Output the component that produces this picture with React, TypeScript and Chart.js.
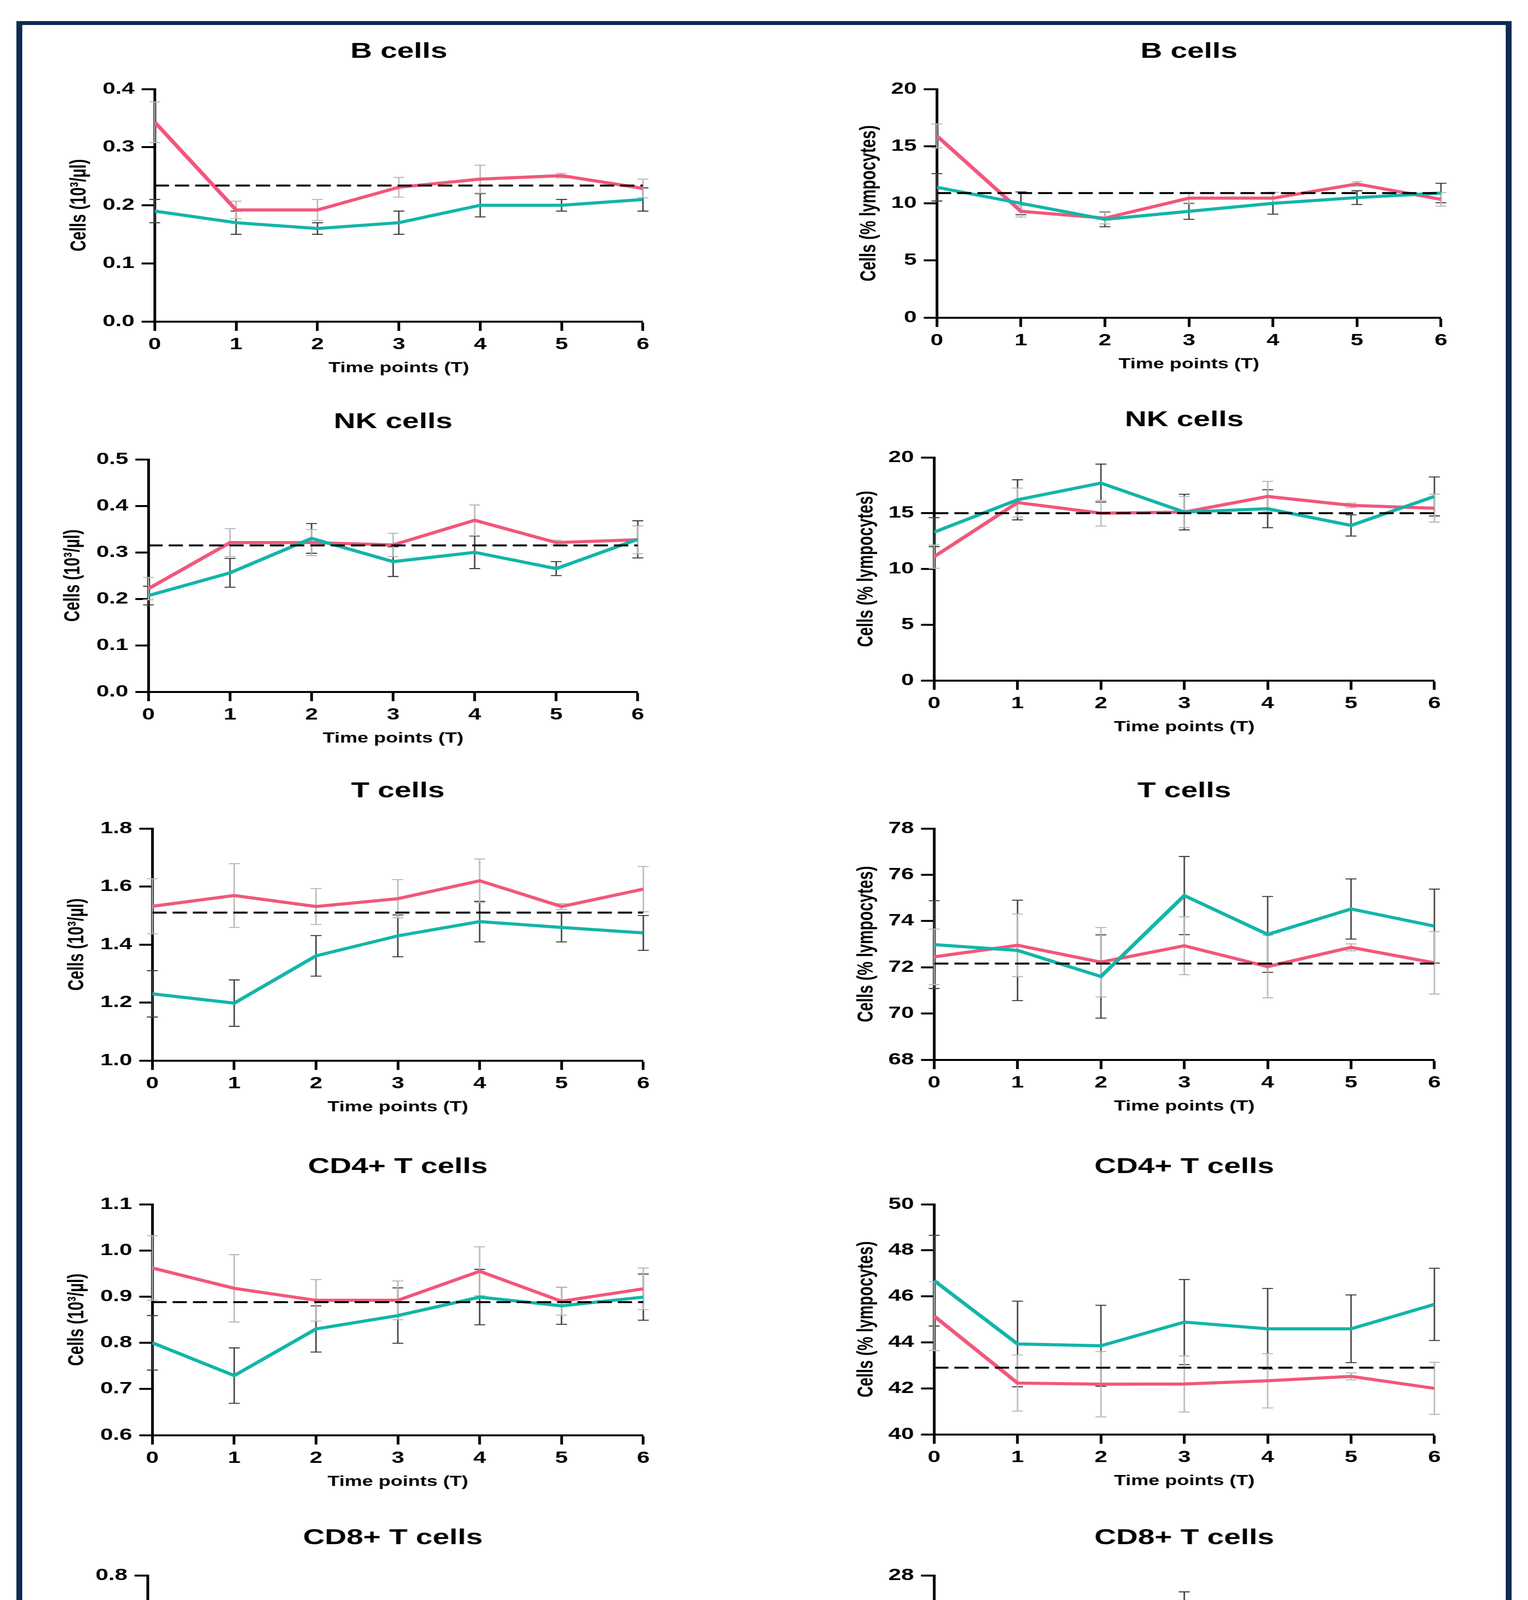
import React, { useEffect, useRef } from "react";
import { Chart, registerables } from "chart.js";

Chart.register(...registerables);

// ---------------- DATA ----------------
const TIME_POINTS = [0, 1, 2, 3, 4, 5, 6];
const SERIES_NAMES = ["PCR+PN+", "PCR-PN+", "HC"];
const X_AXIS_TITLE = "Time points (T)";
const Y_TITLE_ABS = "Cells (10³/µl)";
const Y_TITLE_PCT = "Cells (% lympocytes)";

// B cells
const B_ABS_TICKS = [0, 0.1, 0.2, 0.3, 0.4];
const B_ABS_POS = [0.19, 0.17, 0.16, 0.17, 0.2, 0.2, 0.21];
const B_ABS_POS_SEM = [0.02, 0.02, 0.01, 0.02, 0.02, 0.01, 0.02];
const B_ABS_NEG = [0.343, 0.192, 0.192, 0.231, 0.245, 0.251, 0.229];
const B_ABS_NEG_SEM = [0.035, 0.015, 0.018, 0.017, 0.024, 0.004, 0.016];
const B_ABS_HC = 0.234;

const B_PCT_TICKS = [0, 5, 10, 15, 20];
const B_PCT_POS = [11.4, 10.0, 8.6, 9.3, 10.0, 10.5, 10.9];
const B_PCT_POS_SEM = [1.2, 1.0, 0.65, 0.7, 0.95, 0.6, 0.85];
const B_PCT_NEG = [15.9, 9.3, 8.7, 10.45, 10.45, 11.7, 10.35];
const B_PCT_NEG_SEM = [1.05, 0.5, 0.5, 0.5, 0.5, 0.2, 0.6];
const B_PCT_HC = 10.9;

// NK cells
const NK_ABS_TICKS = [0, 0.1, 0.2, 0.3, 0.4, 0.5];
const NK_ABS_POS = [0.207, 0.256, 0.33, 0.28, 0.3, 0.265, 0.328];
const NK_ABS_POS_SEM = [0.02, 0.031, 0.032, 0.032, 0.035, 0.015, 0.04];
const NK_ABS_NEG = [0.222, 0.321, 0.321, 0.316, 0.369, 0.321, 0.327];
const NK_ABS_NEG_SEM = [0.024, 0.03, 0.028, 0.025, 0.033, 0.005, 0.03];
const NK_ABS_HC = 0.315;

const NK_PCT_TICKS = [0, 5, 10, 15, 20];
const NK_PCT_POS = [13.3, 16.2, 17.7, 15.1, 15.4, 13.9, 16.5];
const NK_PCT_POS_SEM = [1.3, 1.8, 1.7, 1.6, 1.7, 0.95, 1.75];
const NK_PCT_NEG = [11.1, 15.95, 15.0, 15.1, 16.5, 15.7, 15.45];
const NK_PCT_NEG_SEM = [1.05, 1.3, 1.15, 1.4, 1.35, 0.2, 1.25];
const NK_PCT_HC = 15.0;

// T cells
const T_ABS_TICKS = [1.0, 1.2, 1.4, 1.6, 1.8];
const T_ABS_POS = [1.23, 1.198, 1.361, 1.43, 1.479, 1.459, 1.44];
const T_ABS_POS_SEM = [0.08, 0.08, 0.07, 0.072, 0.07, 0.05, 0.06];
const T_ABS_NEG = [1.532, 1.569, 1.531, 1.558, 1.62, 1.531, 1.591];
const T_ABS_NEG_SEM = [0.095, 0.11, 0.062, 0.066, 0.075, 0.01, 0.078];
const T_ABS_HC = 1.51;

const T_PCT_TICKS = [68, 70, 72, 74, 76, 78];
const T_PCT_POS = [72.98, 72.73, 71.6, 75.1, 73.42, 74.52, 73.78];
const T_PCT_POS_SEM = [1.9, 2.17, 1.8, 1.69, 1.64, 1.3, 1.6];
const T_PCT_NEG = [72.45, 72.95, 72.22, 72.93, 72.03, 72.86, 72.19];
const T_PCT_NEG_SEM = [1.2, 1.35, 1.5, 1.25, 1.35, 0.15, 1.35];
const T_PCT_HC = 72.16;

// CD4+ T cells
const CD4_ABS_TICKS = [0.6, 0.7, 0.8, 0.9, 1.0, 1.1];
const CD4_ABS_POS = [0.8, 0.729, 0.83, 0.859, 0.899, 0.88, 0.899];
const CD4_ABS_POS_SEM = [0.059, 0.06, 0.05, 0.06, 0.06, 0.04, 0.05];
const CD4_ABS_NEG = [0.962, 0.918, 0.892, 0.892, 0.955, 0.89, 0.917];
const CD4_ABS_NEG_SEM = [0.07, 0.073, 0.045, 0.042, 0.053, 0.03, 0.045];
const CD4_ABS_HC = 0.888;

const CD4_PCT_TICKS = [40, 42, 44, 46, 48, 50];
const CD4_PCT_POS = [46.68, 43.93, 43.85, 44.88, 44.59, 44.59, 45.65];
const CD4_PCT_POS_SEM = [1.97, 1.86, 1.76, 1.85, 1.75, 1.47, 1.57];
const CD4_PCT_NEG = [45.14, 42.23, 42.18, 42.19, 42.33, 42.52, 42.0];
const CD4_PCT_NEG_SEM = [1.5, 1.22, 1.42, 1.22, 1.18, 0.15, 1.13];
const CD4_PCT_HC = 42.9;

// CD8+ T cells
const CD8_ABS_TICKS = [0, 0.2, 0.4, 0.6, 0.8];
const CD8_ABS_POS = [0.348, 0.378, 0.428, 0.479, 0.479, 0.488, 0.446];
const CD8_ABS_POS_SEM = [0.03, 0.03, 0.04, 0.03, 0.03, 0.03, 0.03];
const CD8_ABS_NEG = [0.487, 0.54, 0.53, 0.555, 0.559, 0.552, 0.562];
const CD8_ABS_NEG_SEM = [0.033, 0.034, 0.03, 0.034, 0.032, 0.005, 0.037];
const CD8_ABS_HC = 0.507;

const CD8_PCT_TICKS = [18, 20, 22, 24, 26, 28];
const CD8_PCT_POS = [21.6, 23.81, 22.6, 25.59, 24.08, 24.97, 23.52];
const CD8_PCT_POS_SEM = [1.5, 1.62, 1.62, 1.7, 1.52, 1.34, 1.43];
const CD8_PCT_NEG = [23.47, 25.69, 24.97, 25.62, 25.03, 26.15, 25.1];
const CD8_PCT_NEG_SEM = [1.06, 1.02, 1.2, 1.04, 1.0, 0.15, 1.0];
const CD8_PCT_HC = 24.0;

// ---------------- PANEL TABLE (built from the arrays) ----------------
type PanelData = {
  title: string;
  yTitle: string;
  ticks: number[];
  decimals: number;
  pos: number[];
  posSem: number[];
  neg: number[];
  negSem: number[];
  hc: number;
};

const PANELS: PanelData[] = [
  { title: "B cells", yTitle: Y_TITLE_ABS, ticks: B_ABS_TICKS, decimals: 1, pos: B_ABS_POS, posSem: B_ABS_POS_SEM, neg: B_ABS_NEG, negSem: B_ABS_NEG_SEM, hc: B_ABS_HC },
  { title: "B cells", yTitle: Y_TITLE_PCT, ticks: B_PCT_TICKS, decimals: 0, pos: B_PCT_POS, posSem: B_PCT_POS_SEM, neg: B_PCT_NEG, negSem: B_PCT_NEG_SEM, hc: B_PCT_HC },
  { title: "NK cells", yTitle: Y_TITLE_ABS, ticks: NK_ABS_TICKS, decimals: 1, pos: NK_ABS_POS, posSem: NK_ABS_POS_SEM, neg: NK_ABS_NEG, negSem: NK_ABS_NEG_SEM, hc: NK_ABS_HC },
  { title: "NK cells", yTitle: Y_TITLE_PCT, ticks: NK_PCT_TICKS, decimals: 0, pos: NK_PCT_POS, posSem: NK_PCT_POS_SEM, neg: NK_PCT_NEG, negSem: NK_PCT_NEG_SEM, hc: NK_PCT_HC },
  { title: "T cells", yTitle: Y_TITLE_ABS, ticks: T_ABS_TICKS, decimals: 1, pos: T_ABS_POS, posSem: T_ABS_POS_SEM, neg: T_ABS_NEG, negSem: T_ABS_NEG_SEM, hc: T_ABS_HC },
  { title: "T cells", yTitle: Y_TITLE_PCT, ticks: T_PCT_TICKS, decimals: 0, pos: T_PCT_POS, posSem: T_PCT_POS_SEM, neg: T_PCT_NEG, negSem: T_PCT_NEG_SEM, hc: T_PCT_HC },
  { title: "CD4+ T cells", yTitle: Y_TITLE_ABS, ticks: CD4_ABS_TICKS, decimals: 1, pos: CD4_ABS_POS, posSem: CD4_ABS_POS_SEM, neg: CD4_ABS_NEG, negSem: CD4_ABS_NEG_SEM, hc: CD4_ABS_HC },
  { title: "CD4+ T cells", yTitle: Y_TITLE_PCT, ticks: CD4_PCT_TICKS, decimals: 0, pos: CD4_PCT_POS, posSem: CD4_PCT_POS_SEM, neg: CD4_PCT_NEG, negSem: CD4_PCT_NEG_SEM, hc: CD4_PCT_HC },
  { title: "CD8+ T cells", yTitle: Y_TITLE_ABS, ticks: CD8_ABS_TICKS, decimals: 1, pos: CD8_ABS_POS, posSem: CD8_ABS_POS_SEM, neg: CD8_ABS_NEG, negSem: CD8_ABS_NEG_SEM, hc: CD8_ABS_HC },
  { title: "CD8+ T cells", yTitle: Y_TITLE_PCT, ticks: CD8_PCT_TICKS, decimals: 0, pos: CD8_PCT_POS, posSem: CD8_PCT_POS_SEM, neg: CD8_PCT_NEG, negSem: CD8_PCT_NEG_SEM, hc: CD8_PCT_HC },
];

// ---------------- LAYOUT (page pixels) ----------------
// plot area of each panel: [left, right, top, bottom]
const PLOT_BOXES: number[][] = [
  [396, 1646, 228, 823], [2398, 3688, 228, 813],
  [380, 1633, 1176, 1771], [2391, 3672, 1171, 1742],
  [390, 1646, 2121, 2715], [2391, 3672, 2121, 2713],
  [390, 1646, 3083, 3674], [2391, 3672, 3083, 3672],
  [378, 1633, 4033, 4626], [2391, 3672, 4033, 4626],
];

const SX = 1.4; // horizontal stretch of the figure
const PAD_L = 300;
const PAD_R = 80;
const PAD_T = 180;
const PAD_B = 150;

const TEAL = "#13b5a9";
const PINK = "#f2577b";
const TEAL_ERR = "#3c3c3c";
const PINK_ERR = "#b8b8b8";
const FONT = "'Liberation Sans', Arial, Helvetica, sans-serif";

const errorBarPlugin = {
  id: "errorBars",
  beforeDatasetsDraw(chart: any) {
    const ctx = chart.ctx;
    const xs = chart.scales.x;
    const ys = chart.scales.y;
    const cap = 10;
    chart.data.datasets.forEach((ds: any) => {
      if (!ds.errors) return;
      ctx.save();
      ctx.strokeStyle = ds.errorColor;
      ctx.lineWidth = 2.6;
      ds.data.forEach((pt: any, j: number) => {
        const e = ds.errors[j];
        const x = xs.getPixelForValue(pt.x);
        const yT = ys.getPixelForValue(pt.y + e);
        const yB = ys.getPixelForValue(pt.y - e);
        ctx.beginPath();
        ctx.moveTo(x, yT);
        ctx.lineTo(x, yB);
        ctx.moveTo(x - cap, yT);
        ctx.lineTo(x + cap, yT);
        ctx.moveTo(x - cap, yB);
        ctx.lineTo(x + cap, yB);
        ctx.stroke();
      });
      ctx.restore();
    });
  },
};

function Panel({ data, box, rightCol }: { data: PanelData; box: number[]; rightCol: boolean }) {
  const ref = useRef<HTMLCanvasElement | null>(null);
  const [pl, pr, pt, pb] = box;
  const pageLeft = pl - PAD_L;
  const pageTop = pt - PAD_T;
  const w = Math.round((pr + PAD_R - pageLeft) / SX);
  const h = PAD_T + (pb - pt) + PAD_B;
  const yTitleOffsetPage = rightCol ? 172 : 192;
  const yTitlePad = (PAD_L - yTitleOffsetPage) / SX - 24;

  useEffect(() => {
    if (!ref.current) return;
    const toPts = (arr: number[]) => arr.map((v, j) => ({ x: TIME_POINTS[j], y: v }));
    const ticks = data.ticks;
    const chart = new Chart(ref.current, {
      type: "line",
      data: {
        datasets: [
          {
            label: SERIES_NAMES[2],
            data: TIME_POINTS.map((t) => ({ x: t, y: data.hc })),
            borderColor: "#000000",
            borderWidth: 5,
            borderDash: [26, 11],
            pointRadius: 0,
            fill: false,
          },
          {
            label: SERIES_NAMES[0],
            data: toPts(data.pos),
            borderColor: TEAL,
            borderWidth: 8,
            pointRadius: 0,
            fill: false,
            errors: data.posSem,
            errorColor: TEAL_ERR,
          } as any,
          {
            label: SERIES_NAMES[1],
            data: toPts(data.neg),
            borderColor: PINK,
            borderWidth: 8,
            pointRadius: 0,
            fill: false,
            errors: data.negSem,
            errorColor: PINK_ERR,
          } as any,
        ],
      },
      options: {
        animation: false,
        responsive: false,
        maintainAspectRatio: false,
        devicePixelRatio: 1,
        events: [],
        layout: { padding: { left: 0, right: PAD_R / SX, top: 0, bottom: 0 } },
        plugins: {
          legend: { display: false },
          tooltip: { enabled: false },
          title: {
            display: true,
            text: data.title,
            color: "#000000",
            fullSize: false,
            font: { family: FONT, size: 55, weight: "bold", lineHeight: 1.2 },
            padding: { top: 52, bottom: 62 },
          },
        },
        scales: {
          x: {
            type: "linear",
            min: TIME_POINTS[0],
            max: TIME_POINTS[TIME_POINTS.length - 1],
            afterBuildTicks: (s: any) => {
              s.ticks = TIME_POINTS.map((v) => ({ value: v }));
            },
            afterFit: (s: any) => {
              s.height = PAD_B;
            },
            ticks: {
              color: "#000000",
              font: { family: FONT, size: 42, weight: "bold", lineHeight: 1.2 },
              padding: 10,
              maxRotation: 0,
              autoSkip: false,
              callback: (v: any) => String(v),
            },
            grid: {
              drawOnChartArea: false,
              drawTicks: true,
              tickLength: 24,
              tickWidth: 5,
              tickColor: "#000000",
            },
            border: { display: true, color: "#000000", width: 5 },
            title: {
              display: true,
              text: X_AXIS_TITLE,
              color: "#000000",
              font: { family: FONT, size: 36, weight: "bold", lineHeight: 1.2 },
              padding: { top: 0, bottom: 8 },
            },
          },
          y: {
            type: "linear",
            min: ticks[0],
            max: ticks[ticks.length - 1],
            afterBuildTicks: (s: any) => {
              s.ticks = ticks.map((v) => ({ value: v }));
            },
            afterFit: (s: any) => {
              s.width = PAD_L / SX;
            },
            ticks: {
              color: "#000000",
              font: { family: FONT, size: 42, weight: "bold", lineHeight: 1.2 },
              padding: 13,
              autoSkip: false,
              callback: (v: any) => Number(v).toFixed(data.decimals),
            },
            grid: {
              drawOnChartArea: false,
              drawTicks: true,
              tickLength: 24,
              tickWidth: 5,
              tickColor: "#000000",
            },
            border: { display: true, color: "#000000", width: 5 },
            title: {
              display: true,
              text: data.yTitle,
              color: "#000000",
              font: { family: FONT, size: 40, weight: "bold", lineHeight: 1.2 },
              padding: { top: yTitlePad, bottom: 0 },
            },
          },
        },
      } as any,
      plugins: [errorBarPlugin],
    });
    return () => chart.destroy();
  }, []);

  return (
    <div
      style={{
        position: "absolute",
        left: pageLeft,
        top: pageTop,
        width: w,
        height: h,
        transform: `scaleX(${SX})`,
        transformOrigin: "0 0",
      }}
    >
      <canvas ref={ref} width={w} height={h} style={{ width: w, height: h, display: "block" }} />
    </div>
  );
}

function LegendRow({ y, label, kind }: { y: number; label: string; kind: "teal" | "pink" | "dash" }) {
  const lineStyle: React.CSSProperties = { position: "absolute", height: 11, top: y - 5.5, borderRadius: 6 };
  return (
    <>
      {kind === "dash" ? (
        <>
          <div style={{ ...lineStyle, left: 1614, width: 46, background: "#000" }} />
          <div style={{ ...lineStyle, left: 1674, width: 45, background: "#000" }} />
          <div style={{ ...lineStyle, left: 1735, width: 16, background: "#000" }} />
        </>
      ) : (
        <div style={{ ...lineStyle, left: 1610, width: 144, background: kind === "teal" ? TEAL : PINK }} />
      )}
      <div
        style={{
          position: "absolute",
          left: 1825,
          top: y - 34,
          height: 68,
          lineHeight: "68px",
          fontSize: 68,
          fontFamily: FONT,
          color: "#000",
          whiteSpace: "nowrap",
          transform: `scaleX(${SX})`,
          transformOrigin: "0 0",
        }}
      >
        {label}
      </div>
    </>
  );
}

export default function App() {
  return (
    <div
      style={{
        position: "absolute",
        left: 0,
        top: 0,
        width: 3911,
        height: 5497,
        background: "#ffffff",
        overflow: "hidden",
      }}
    >
      <div
        style={{
          position: "absolute",
          left: 42,
          top: 54,
          width: 3827,
          height: 5382,
          boxSizing: "border-box",
          borderStyle: "solid",
          borderColor: "#0c2a52",
          borderWidth: "10px 15px 10px 15px",
        }}
      />
      {PANELS.map((p, i) => (
        <Panel key={i} data={p} box={PLOT_BOXES[i]} rightCol={i % 2 === 1} />
      ))}
      <LegendRow y={4963} label={SERIES_NAMES[0]} kind="teal" />
      <LegendRow y={5078} label={SERIES_NAMES[1]} kind="pink" />
      <LegendRow y={5192} label={SERIES_NAMES[2]} kind="dash" />
    </div>
  );
}
